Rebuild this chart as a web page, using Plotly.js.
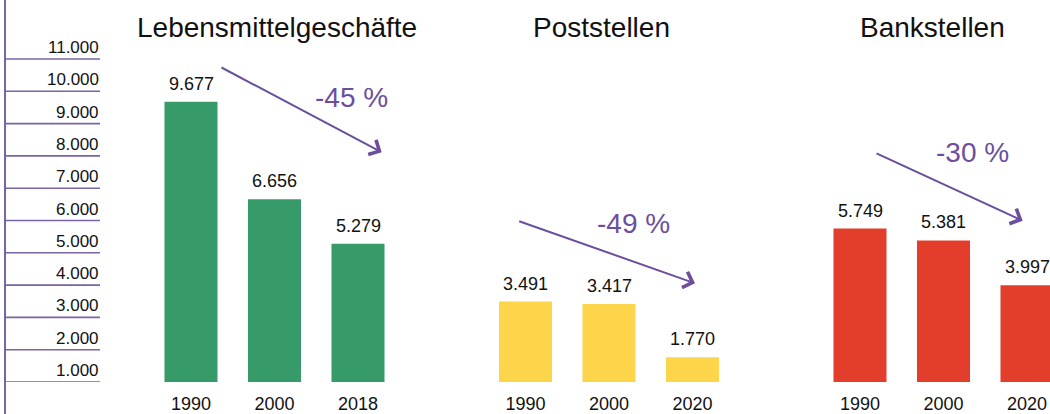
<!DOCTYPE html>
<html>
<head>
<meta charset="utf-8">
<script src="https://cdn.plot.ly/plotly-3.0.1.min.js"></script>
<style>
  html, body { margin: 0; padding: 0; background: #fff; }
  #chart { width: 1050px; height: 414px; }
</style>
</head>
<body>
<div id="chart"></div>
<script>
// ---------- data ----------
const panelTitles = ['Lebensmittelgeschäfte', 'Poststellen', 'Bankstellen'];
const yearsFood = ['1990', '2000', '2018'];
const food = [9677, 6656, 5279];
const yearsPost = ['1990', '2000', '2020'];
const post = [3491, 3417, 1770];
const yearsBank = ['1990', '2000', '2020'];
const bank = [5749, 5381, 3997];
const changeLabels = ['-45 %', '-49 %', '-30 %'];
const tickVals = [1000, 2000, 3000, 4000, 5000, 6000, 7000, 8000, 9000, 10000, 11000];
const tickLabels = ['1.000', '2.000', '3.000', '4.000', '5.000', '6.000', '7.000', '8.000', '9.000', '10.000', '11.000'];

// ---------- style ----------
const W = 1050, H = 414, MB = 32, PH = H - MB;
const FONT = '"Liberation Sans", Arial, Helvetica, sans-serif';
const PURPLE = '#6b4f9e';
const AXIS_PURPLE = '#7b63a8';
const COLORS = ['#379a69', '#fdd54b', '#e33e2b'];
const PITCH = 83.5; // px per category

const px = x => x / W;            // page px -> paper x
const py = y => (PH - y) / PH;    // page px -> paper y

function dom(center) {
  const a = center - 1.5 * PITCH, b = center + 1.5 * PITCH;
  const bb = Math.min(b, W);
  return { domain: [a / W, bb / W], range: [-0.5, -0.5 + (bb - a) / PITCH] };
}
const d1 = dom(274.5), d2 = dom(609), d3 = dom(943.5);

// German thousands separator
const fmt = v => String(v).replace(/\B(?=(\d{3})+(?!\d))/g, '.');

const annotations = [];
function barTrace(x, y, color, xa) {
  y.forEach((v, i) => {
    annotations.push({
      xref: xa, yref: 'y', x: i, y: v, xanchor: 'center', yanchor: 'bottom',
      yshift: 6, text: fmt(v), showarrow: false,
      font: { family: FONT, size: 18, color: '#111' }
    });
  });
  return {
    type: 'bar', x: x, y: y, xaxis: xa, yaxis: 'y',
    marker: { color: color, line: { width: 0 } },
    hoverinfo: 'skip'
  };
}

const data = [
  barTrace(yearsFood, food, COLORS[0], 'x'),
  barTrace(yearsPost, post, COLORS[1], 'x2'),
  barTrace(yearsBank, bank, COLORS[2], 'x3')
];

function xa(d) {
  return {
    type: 'category', domain: d.domain, range: d.range, anchor: 'y',
    showgrid: false, zeroline: false, showline: false, ticks: '',
    ticklabelstandoff: 9,
    tickfont: { family: FONT, size: 18, color: '#111' }, fixedrange: true
  };
}

// custom left axis
const shapes = [{
  type: 'line', xref: 'paper', yref: 'paper',
  x0: px(5), x1: px(5), y0: py(H), y1: py(0),
  line: { color: AXIS_PURPLE, width: 2 }
}];
tickVals.forEach((v, i) => {
  shapes.push({
    type: 'line', xref: 'paper', yref: 'y',
    x0: px(5), x1: px(100), y0: v, y1: v,
    line: { color: AXIS_PURPLE, width: 1.6 }
  });
  annotations.push({
    xref: 'paper', yref: 'y', x: px(101), y: v,
    xanchor: 'right', yanchor: 'bottom', yshift: 0,
    text: tickLabels[i], showarrow: false,
    font: { family: FONT, size: 17, color: '#111' }
  });
});

// panel titles
const titleX = [277, 601, 932];
panelTitles.forEach((t, i) => {
  annotations.push({
    xref: 'paper', yref: 'paper', x: px(titleX[i]), y: py(28),
    xanchor: 'center', yanchor: 'middle', text: t, showarrow: false,
    font: { family: FONT, size: 28, color: '#111' }
  });
});

// change arrows + labels
const arrows = [
  { tail: [220, 66.7], head: [381.7, 152.3], label: [351, 97] },
  { tail: [517.7, 220.7], head: [695, 283.3], label: [633, 224] },
  { tail: [875, 152.7], head: [1022.7, 220.7], label: [972.5, 152] }
];
arrows.forEach((a, i) => {
  annotations.push({
    xref: 'paper', yref: 'paper', x: px(a.head[0]), y: py(a.head[1]),
    axref: 'pixel', ayref: 'pixel',
    ax: a.tail[0] - a.head[0], ay: a.tail[1] - a.head[1],
    showarrow: true, arrowhead: 4, arrowsize: 1.6, arrowwidth: 2,
    arrowcolor: PURPLE, text: ''
  });
  annotations.push({
    xref: 'paper', yref: 'paper', x: px(a.label[0]), y: py(a.label[1]),
    xanchor: 'center', yanchor: 'middle', text: changeLabels[i], showarrow: false,
    font: { family: FONT, size: 28, color: PURPLE }
  });
});

const layout = {
  width: W, height: H,
  margin: { l: 0, r: 0, t: 0, b: MB, pad: 0 },
  paper_bgcolor: '#fff', plot_bgcolor: '#fff',
  showlegend: false, separators: ',.',
  bargap: 0.365,
  font: { family: FONT, color: '#111' },
  xaxis: xa(d1), xaxis2: xa(d2), xaxis3: xa(d3),
  yaxis: {
    range: [1000, 1000 + PH / 32.3 * 1000], domain: [0, 1],
    visible: false, showgrid: false, zeroline: false, fixedrange: true
  },
  shapes: shapes, annotations: annotations
};

Plotly.newPlot('chart', data, layout, { displayModeBar: false, staticPlot: true });
</script>
</body>
</html>
